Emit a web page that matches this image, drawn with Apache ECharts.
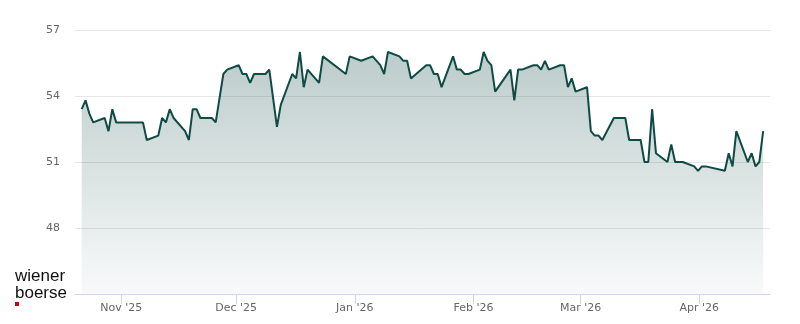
<!DOCTYPE html>
<html>
<head>
<meta charset="utf-8">
<script src="https://cdn.jsdelivr.net/npm/echarts@6/dist/echarts.min.js"></script>
<style>
html,body{margin:0;padding:0;background:#fff;}
#chart{width:800px;height:324px;}
</style>
</head>
<body>
<div id="chart"></div>
<script>
const dates = [
'2025-10-21','2025-10-22','2025-10-23','2025-10-24','2025-10-27','2025-10-28','2025-10-29','2025-10-30',
'2025-11-06','2025-11-07','2025-11-10','2025-11-11','2025-11-12','2025-11-13','2025-11-14',
'2025-11-17','2025-11-18','2025-11-19','2025-11-20','2025-11-21','2025-11-24','2025-11-25','2025-11-27','2025-11-28',
'2025-12-01','2025-12-02','2025-12-03','2025-12-04','2025-12-05','2025-12-08','2025-12-09','2025-12-11','2025-12-12',
'2025-12-15','2025-12-16','2025-12-17','2025-12-18','2025-12-19','2025-12-22','2025-12-23','2025-12-29','2025-12-30',
'2026-01-02','2026-01-05','2026-01-07','2026-01-08','2026-01-09','2026-01-12','2026-01-13','2026-01-14','2026-01-15',
'2026-01-19','2026-01-20','2026-01-21','2026-01-22','2026-01-23','2026-01-26','2026-01-27','2026-01-28','2026-01-29','2026-01-30',
'2026-02-02','2026-02-03','2026-02-04','2026-02-05','2026-02-06','2026-02-10','2026-02-11','2026-02-12','2026-02-13',
'2026-02-16','2026-02-17','2026-02-18','2026-02-19','2026-02-20','2026-02-23','2026-02-24','2026-02-25','2026-02-26','2026-02-27',
'2026-03-02','2026-03-03','2026-03-04','2026-03-05','2026-03-06','2026-03-09','2026-03-12','2026-03-13',
'2026-03-16','2026-03-17','2026-03-18','2026-03-19','2026-03-20','2026-03-23','2026-03-24','2026-03-25','2026-03-27',
'2026-03-30','2026-03-31','2026-04-01','2026-04-02','2026-04-07','2026-04-08','2026-04-09','2026-04-10',
'2026-04-13','2026-04-14','2026-04-15','2026-04-16','2026-04-17'
];
const prices = [
53.4,53.8,53.2,52.8,53.0,52.4,53.4,52.8,
52.8,52.0,52.2,53.0,52.8,53.4,53.0,
52.4,52.0,53.4,53.4,53.0,53.0,52.8,55.0,55.2,
55.4,55.0,55.0,54.6,55.0,55.0,55.2,52.6,53.6,
55.0,54.8,56.0,54.4,55.2,54.6,55.8,55.0,55.8,
55.6,55.8,55.4,55.0,56.0,55.8,55.6,55.6,54.8,
55.4,55.4,55.0,55.0,54.4,55.8,55.2,55.2,55.0,55.0,
55.2,56.0,55.6,55.4,54.2,55.2,53.8,55.2,55.2,
55.4,55.4,55.2,55.6,55.2,55.4,55.4,54.4,54.8,54.2,
54.4,52.4,52.2,52.2,52.0,53.0,53.0,52.0,
52.0,51.0,51.0,53.4,51.4,51.0,51.8,51.0,51.0,
50.8,50.6,50.8,50.8,50.6,51.4,50.8,52.4,
51.0,51.4,50.8,51.0,52.4
];
const monthTicks = ['2025-11-01','2025-12-01','2026-01-01','2026-02-01','2026-03-01','2026-04-01'];
const monthLabels = ["Nov '25","Dec '25","Jan '26","Feb '26","Mar '26","Apr '26"];
const yTicks = [45, 48, 51, 54, 57];

function ts(s, hh) {
  const p = s.split('-').map(Number);
  return Date.UTC(p[0], p[1] - 1, p[2], hh || 0, 0, 0);
}
const seriesData = dates.map((d, i) => [ts(d, 16), prices[i]]);
const tickValues = monthTicks.map(d => ts(d, 0));
const labelMap = {};
tickValues.forEach((t, i) => { labelMap[t] = monthLabels[i]; });

const chart = echarts.init(document.getElementById('chart'), null, {renderer: 'canvas'});
chart.setOption({
  animation: false,
  backgroundColor: '#ffffff',
  grid: {left: 75, right: 30, top: 30, bottom: 30, containLabel: false},
  xAxis: {
    type: 'value',
    min: Date.UTC(2025, 9, 19, 22, 0, 0),
    max: Date.UTC(2026, 3, 19, 11, 0, 0),
    axisLine: {show: true, onZero: false, lineStyle: {color: '#ccd6eb', width: 1}},
    axisTick: {show: true, length: 10, lineStyle: {color: '#ccd6eb'}, customValues: tickValues},
    axisLabel: {
      customValues: tickValues,
      color: '#666666', fontSize: 11, fontFamily: 'DejaVu Sans', margin: 9,
      formatter: v => labelMap[v] || ''
    },
    splitLine: {show: false}
  },
  yAxis: {
    type: 'value',
    min: yTicks[0], max: yTicks[yTicks.length - 1], interval: 3,
    axisLine: {show: false},
    axisTick: {show: false},
    axisLabel: {
      color: '#666666', fontSize: 11, fontFamily: 'DejaVu Sans', margin: 15,
      formatter: v => (v === yTicks[0] ? '' : String(v))
    },
    splitLine: {show: true, lineStyle: {color: '#e6e6e6', width: 1}}
  },
  series: [{
    type: 'line',
    data: seriesData,
    showSymbol: false,
    symbol: 'none',
    lineStyle: {color: '#0f4a45', width: 2},
    itemStyle: {color: '#0f4a45'},
    areaStyle: {
      origin: 'start',
      color: new echarts.graphic.LinearGradient(0, 0, 0, 1, [
        {offset: 0, color: 'rgba(15,74,69,0.40)'},
        {offset: 1, color: 'rgba(15,74,69,0.04)'}
      ])
    }
  }],
  graphic: [
    {type: 'text', left: 15, top: 268, style: {text: 'wiener', font: '17px "Liberation Sans", Arial, sans-serif', fill: '#111111'}},
    {type: 'text', left: 15, top: 285, style: {text: 'boerse', font: '17px "Liberation Sans", Arial, sans-serif', fill: '#111111'}},
    {type: 'rect', left: 15, top: 302, shape: {width: 4, height: 4}, style: {fill: '#d0021b'}}
  ]
});
</script>
</body>
</html>
